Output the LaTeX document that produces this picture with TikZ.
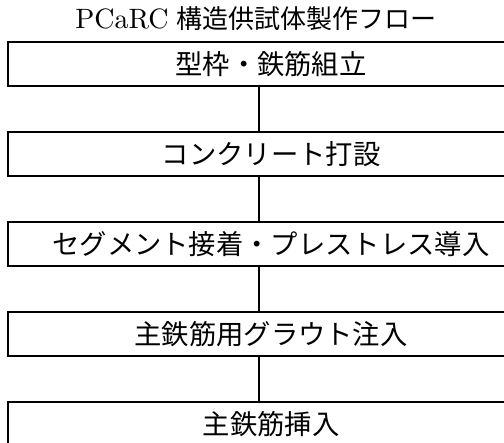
\documentclass[tikz,border=0pt]{standalone}
\usepackage{fontspec}
\usepackage{graphicx}
\newfontfamily\cjk{Noto Sans CJK JP}
\begin{document}
\begin{tikzpicture}[x=0.75pt,y=-0.75pt,
  stepbox/.style={draw=black,line width=1.5pt,minimum width=526*0.75pt,minimum height=44*0.75pt,inner sep=0pt,font=\fontsize{20.5pt}{23pt}\selectfont\cjk},
  link/.style={draw=black,line width=1.5pt}]
\useasboundingbox (0,0) rectangle (504,443);
\clip (0,0) rectangle (504,443);
\node[inner sep=0pt] (title) at (256,19) {\raisebox{0.3pt}{\scalebox{2.1}{PCaRC}}\hspace{6pt}{\cjk\fontsize{19.5pt}{22pt}\selectfont 構造供試体製作フロー}};
\node[stepbox] (b1) at (271,64) {型枠・鉄筋組立};
\node[stepbox] (b2) at (271,154) {コンクリート打設};
\node[stepbox] (b3) at (271,244) {セグメント接着・プレストレス導入};
\node[stepbox] (b4) at (271,334) {主鉄筋用グラウト注入};
\node[stepbox] (b5) at (271,424) {主鉄筋挿入};
\coordinate (lx) at (259,0);
\draw[link] (b1.south -| lx) -- (b2.north -| lx);
\draw[link] (b2.south -| lx) -- (b3.north -| lx);
\draw[link] (b3.south -| lx) -- (b4.north -| lx);
\draw[link] (b4.south -| lx) -- (b5.north -| lx);
\end{tikzpicture}
\end{document}
